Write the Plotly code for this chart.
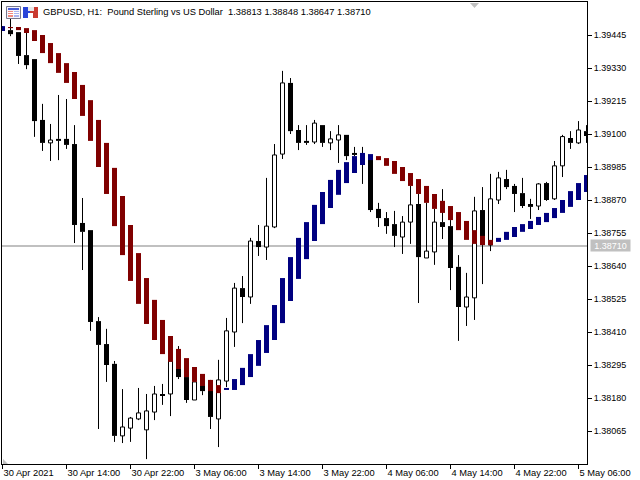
import plotly.graph_objects as go

BLACK = "#000000"
SILVER = "#c0c0c0"
DARK_RED = "#800000"
NAVY = "#000080"
FONT = "Liberation Sans"

bar_index = list(range(74))

candle_open = [
    1.39473, 1.39462, 1.39455, 1.39375, 1.39361, 1.39149, 1.39069, 1.39083, 1.39083, 1.39065,
    1.38790, 1.38765, 1.38448, 1.38368, 1.38299, 1.38048, 1.38075, 1.38107, 1.38069, 1.38131,
    1.38194, 1.38194, 1.38309, 1.38253, 1.38173, 1.38236, 1.38229, 1.38107, 1.38239, 1.38410,
    1.38563, 1.38532, 1.38727, 1.38706, 1.38776, 1.39030, 1.39278, 1.39114, 1.39076, 1.39072,
    1.39131, 1.39069, 1.39079, 1.39097, 1.39034, 1.39027, 1.39020, 1.38839, 1.38807, 1.38786,
    1.38741, 1.38793, 1.38856, 1.38668, 1.38689, 1.38793, 1.38779, 1.38637, 1.38497, 1.38529,
    1.38835, 1.38713, 1.38870, 1.38943, 1.38919, 1.38894, 1.38856, 1.38849, 1.38929, 1.38874,
    1.38989, 1.39086, 1.39069, 1.39110,
]
candle_high = [
    1.39476, 1.39504, 1.39455, 1.39455, 1.39361, 1.39205, 1.39135, 1.39236, 1.39222, 1.39131,
    1.38877, 1.38765, 1.38462, 1.38421, 1.38309, 1.38211, 1.38114, 1.38215, 1.38194, 1.38222,
    1.38229, 1.38309, 1.38361, 1.38253, 1.38236, 1.38243, 1.38243, 1.38313, 1.38459, 1.38581,
    1.38605, 1.38738, 1.38783, 1.38947, 1.39065, 1.39320, 1.39295, 1.39131, 1.39131, 1.39149,
    1.39131, 1.39110, 1.39131, 1.39097, 1.39055, 1.39055, 1.39027, 1.38860, 1.38828, 1.38832,
    1.38814, 1.38919, 1.38891, 1.38860, 1.38839, 1.38908, 1.38800, 1.38678, 1.38616, 1.38881,
    1.38915, 1.38961, 1.38968, 1.38975, 1.38926, 1.38947, 1.38874, 1.38929, 1.38933, 1.39006,
    1.39097, 1.39110, 1.39145, 1.39131,
]
candle_low = [
    1.39459, 1.39441, 1.39344, 1.39326, 1.39090, 1.39041, 1.39006, 1.39009, 1.39048, 1.38720,
    1.38626, 1.38414, 1.38072, 1.38236, 1.38027, 1.38023, 1.38027, 1.38103, 1.37967, 1.38103,
    1.38156, 1.38117, 1.38246, 1.38163, 1.38173, 1.38190, 1.38072, 1.38009, 1.38218, 1.38358,
    1.38441, 1.38508, 1.38675, 1.38661, 1.38772, 1.39013, 1.39100, 1.39044, 1.39062, 1.39065,
    1.39055, 1.39044, 1.38999, 1.39009, 1.39023, 1.38926, 1.38828, 1.38776, 1.38752, 1.38706,
    1.38682, 1.38717, 1.38511, 1.38668, 1.38644, 1.38734, 1.38556, 1.38379, 1.38431, 1.38452,
    1.38577, 1.38692, 1.38856, 1.38908, 1.38828, 1.38842, 1.38804, 1.38835, 1.38867, 1.38870,
    1.38950, 1.39048, 1.39065, 1.39069,
]
candle_close = [
    1.39459, 1.39448, 1.39372, 1.39340, 1.39145, 1.39069, 1.39079, 1.39076, 1.39062, 1.38783,
    1.38759, 1.38445, 1.38365, 1.38295, 1.38048, 1.38079, 1.38110, 1.38128, 1.38135, 1.38194,
    1.38187, 1.38309, 1.38253, 1.38173, 1.38236, 1.38204, 1.38114, 1.38243, 1.38414, 1.38563,
    1.38532, 1.38727, 1.38706, 1.38779, 1.39027, 1.39278, 1.39110, 1.39069, 1.39069, 1.39138,
    1.39069, 1.39083, 1.39097, 1.39023, 1.39027, 1.39020, 1.38835, 1.38807, 1.38779, 1.38745,
    1.38793, 1.38853, 1.38671, 1.38692, 1.38793, 1.38776, 1.38633, 1.38497, 1.38532, 1.38832,
    1.38713, 1.38874, 1.38947, 1.38915, 1.38891, 1.38849, 1.38846, 1.38926, 1.38870, 1.38989,
    1.39091, 1.39069, 1.39114, 1.39093,
]

# Trend ribbon: upper and lower edge of each bar, and the direction it shows.
ribbon_upper = [
    1.39476, 1.39473, 1.39473, 1.39469, 1.39462, 1.39445, 1.39417, 1.39382, 1.39347, 1.39316,
    1.39271, 1.39218, 1.39149, 1.39069, 1.38982, 1.38884, 1.38783, 1.38685, 1.38598, 1.38522,
    1.38452, 1.38396, 1.38351, 1.38319, 1.38288, 1.38264, 1.38243, 1.38225, 1.38215, 1.38246,
    1.38285, 1.38333, 1.38382, 1.38434, 1.38504, 1.38598, 1.38671, 1.38738, 1.38793, 1.38853,
    1.38898, 1.38940, 1.38975, 1.39002, 1.39023, 1.39034, 1.39030, 1.39023, 1.39016, 1.39006,
    1.38985, 1.38964, 1.38943, 1.38919, 1.38891, 1.38867, 1.38849, 1.38828, 1.38797, 1.38765,
    1.38745, 1.38731, 1.38738, 1.38759, 1.38776, 1.38786, 1.38797, 1.38811, 1.38825, 1.38842,
    1.38870, 1.38901, 1.38929, 1.38957,
]
ribbon_lower = [
    1.39459, 1.39469, 1.39462, 1.39452, 1.39424, 1.39382, 1.39347, 1.39313, 1.39278, 1.39222,
    1.39163, 1.39076, 1.38985, 1.38891, 1.38779, 1.38678, 1.38588, 1.38508, 1.38438, 1.38382,
    1.38333, 1.38306, 1.38281, 1.38253, 1.38236, 1.38222, 1.38204, 1.38197, 1.38208, 1.38208,
    1.38225, 1.38253, 1.38292, 1.38337, 1.38382, 1.38441, 1.38518, 1.38595, 1.38664, 1.38727,
    1.38786, 1.38842, 1.38888, 1.38929, 1.38964, 1.38992, 1.39009, 1.39009, 1.38989, 1.38961,
    1.38936, 1.38919, 1.38891, 1.38860, 1.38839, 1.38825, 1.38800, 1.38765, 1.38731, 1.38717,
    1.38713, 1.38713, 1.38724, 1.38731, 1.38741, 1.38759, 1.38769, 1.38783, 1.38793, 1.38807,
    1.38825, 1.38846, 1.38870, 1.38898,
]
ribbon_up = [
    1, 0, 0, 0, 0, 0, 0, 0, 0, 0,
    0, 0, 0, 0, 0, 0, 0, 0, 0, 0,
    0, 0, 0, 0, 0, 0, 0, 0, 1, 1,
    1, 1, 1, 1, 1, 1, 1, 1, 1, 1,
    1, 1, 1, 1, 1, 1, 1, 0, 0, 0,
    0, 0, 0, 0, 0, 0, 0, 0, 0, 0,
    0, 0, 1, 1, 1, 1, 1, 1, 1, 1,
    1, 1, 1, 1,
]

y_tick_values = [1.39445, 1.39330, 1.39215, 1.39100, 1.38985, 1.38870, 1.38755,
                 1.38640, 1.38525, 1.38410, 1.38295, 1.38180, 1.38065]
x_tick_values = [0, 8, 16, 24, 32, 40, 48, 56, 64, 72]
x_tick_labels = ["30 Apr 2021", "30 Apr 14:00", "30 Apr 22:00", "3 May 06:00", "3 May 14:00",
                 "3 May 22:00", "4 May 06:00", "4 May 14:00", "4 May 22:00", "5 May 06:00"]
last_price = 1.38710
title_text = "GBPUSD, H1:\u00a0 Pound Sterling vs US Dollar\u00a0 1.38813 1.38848 1.38647 1.38710"

# Plot frame, in page pixels.
LEFT, RIGHT, TOP, BOTTOM = 2, 587, 2, 464
PRICE_PER_PX = 0.00115 / 33
x_range = [(LEFT - 2.5) / 8, (RIGHT - 2.5) / 8]
y_range = [1.39445 - (BOTTOM - 35) * PRICE_PER_PX, 1.39445 + (35 - TOP) * PRICE_PER_PX]


def px(x):
    return (x - LEFT) / (RIGHT - LEFT)


def py(y):
    return (BOTTOM - y) / (BOTTOM - TOP)


def rect(x0, y0, x1, y1, fill, line=None):
    return dict(type="rect", xref="paper", yref="paper", x0=px(x0), x1=px(x1), y0=py(y0), y1=py(y1),
                fillcolor=fill, line=dict(color=line or fill, width=1 if line else 0), layer="above")


def ribbon(direction, color, name):
    xs, ys = [], []
    for i, up, hi, lo in zip(bar_index, ribbon_up, ribbon_upper, ribbon_lower):
        if up == direction:
            xs += [i, i, None]
            ys += [lo, hi, None]
    return go.Scatter(x=xs, y=ys, mode="lines", name=name, showlegend=False, hoverinfo="skip",
                      line=dict(color=color, width=5), connectgaps=False)


def wicks():
    xs, ys = [], []
    for i, o, h, l, c in zip(bar_index, candle_open, candle_high, candle_low, candle_close):
        xs += [i, i, None, i, i, None]
        ys += [h, max(o, c), None, min(o, c), l, None]
    return go.Scatter(x=xs, y=ys, mode="lines", showlegend=False, hoverinfo="skip", name="range",
                      line=dict(color=BLACK, width=1))


def bodies(rising):
    chosen = [(i, o, c) for i, o, c in zip(bar_index, candle_open, candle_close) if (c > o) == rising]
    xs = [i for i, _, _ in chosen]
    base = [min(o, c) for _, o, c in chosen]
    size = [abs(c - o) for _, o, c in chosen]
    if rising:
        return go.Bar(x=xs, y=size, base=base, width=0.5, showlegend=False, name="up",
                      marker=dict(color="#ffffff", line=dict(color=BLACK, width=1)))
    return go.Bar(x=xs, y=size, base=base, width=0.625, showlegend=False, name="down",
                  marker=dict(color=BLACK, line=dict(width=0)))


fig = go.Figure()
fig.add_trace(bodies(True))
fig.add_trace(bodies(False))
fig.add_trace(wicks())
fig.add_trace(ribbon(0, DARK_RED, "down"))
fig.add_trace(ribbon(1, NAVY, "up"))

shapes = [
    dict(type="line", xref="paper", yref="y", x0=0, x1=1, y0=last_price, y1=last_price,
         line=dict(color=SILVER, width=2), layer="below"),
    # chart shift marker and scale fix marker
    dict(type="path", xref="paper", yref="paper", fillcolor=SILVER, line=dict(width=0), layer="above",
         path=f"M{px(470)},{py(3)} L{px(479)},{py(3)} L{px(474.5)},{py(8)} Z"),
    dict(type="path", xref="paper", yref="paper", fillcolor=SILVER, line=dict(width=0), layer="above",
         path=f"M{px(3)},{py(464)} L{px(3)},{py(459)} L{px(8)},{py(464)} Z"),
    # window icon
    rect(6.5, 6.5, 20.5, 18.5, "#f4f4fb", "#77778c"),
    rect(8, 8, 19, 10, "#4a5fd8"),
    rect(8, 11, 13, 17, "#f08a80"),
    rect(14, 11, 19, 17, "#a9b4f0"),
    rect(8, 12, 19, 13, "#ffffff"),
    rect(8, 14, 19, 15, "#ffffff"),
    # save icon
    rect(23, 7, 30, 18, "#2a45d8"),
    rect(30, 7, 38, 18, "#c93a30"),
    rect(28, 7, 34, 11, "#e8e8e8"),
    rect(28, 13, 33, 18, "#ffffff"),
]

annotations = [
    dict(xref="paper", yref="paper", x=px(43), y=py(12.5), xanchor="left", yanchor="middle",
         text=title_text, showarrow=False, borderpad=0, borderwidth=0,
         font=dict(family=FONT, size=9.33, color=BLACK)),
    dict(xref="paper", yref="y", x=px(590), y=last_price, xanchor="left", yanchor="middle",
         text=f"{last_price:.5f}", showarrow=False, bgcolor=SILVER, width=39, height=11, borderpad=0,
         font=dict(family=FONT, size=9, color="#ffffff")),
]

fig.update_layout(
    width=640, height=480,
    margin=dict(l=LEFT, r=640 - RIGHT, t=TOP, b=480 - BOTTOM, pad=0),
    paper_bgcolor="#ffffff", plot_bgcolor="#ffffff",
    barmode="overlay", showlegend=False,
    shapes=shapes, annotations=annotations,
    font=dict(family=FONT, size=9.3, color=BLACK),
    xaxis=dict(range=x_range, tickmode="array", tickvals=x_tick_values, ticktext=x_tick_labels,
               ticks="outside", ticklen=4, tickwidth=1, tickcolor=BLACK,
               ticklabelposition="outside right", showgrid=False, zeroline=False,
               showline=True, linecolor=BLACK, linewidth=1, mirror=True, tickangle=0),
    yaxis=dict(range=y_range, side="right", tickmode="array", tickvals=y_tick_values,
               tickformat=".5f", ticks="outside", ticklen=4, tickwidth=1, tickcolor=BLACK,
               tickfont=dict(family=FONT, size=9, color=BLACK),
               showgrid=False, zeroline=False, showline=True, linecolor=BLACK, linewidth=1, mirror=True),
)

fig.write_html("out.html", config=dict(displayModeBar=False), post_script="document.body.style.margin='0';")
